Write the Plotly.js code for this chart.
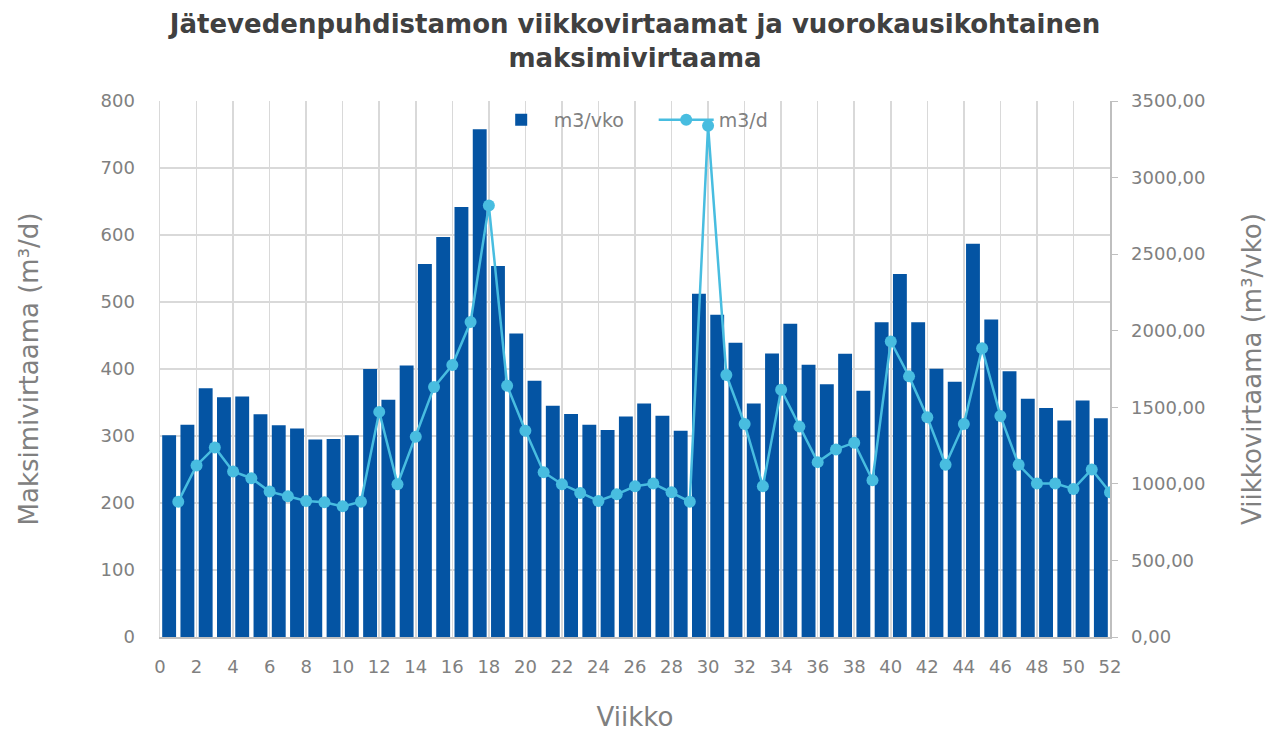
<!DOCTYPE html>
<html>
<head>
<meta charset="utf-8">
<script src="https://cdn.plot.ly/plotly-3.0.1.min.js"></script>
<style>html,body{margin:0;padding:0;background:#fff;}#chart{width:1285px;height:734px;}</style>
</head>
<body>
<div id="chart"></div>
<script>
// Weeks 1..52
const weeks = Array.from({length: 52}, (_, i) => i + 1);

// Weekly flow, m3/vko (right axis)
const weeklyFlow = [
  1317, 1386, 1624, 1566, 1571, 1454, 1382, 1361, 1289, 1293,
  1317, 1750, 1550, 1773, 2435, 2612, 2808, 3316, 2423, 1981,
  1673, 1510, 1456, 1386, 1351, 1440, 1524, 1445, 1347, 2241,
  2104, 1922, 1524, 1852, 2046, 1778, 1650, 1850, 1608, 2055,
  2370, 2055, 1752, 1666, 2568, 2074, 1736, 1556, 1496, 1414,
  1545, 1428
];

// Daily maximum flow, m3/d (left axis)
const dailyMax = [
  202, 256, 283, 247, 237, 217, 210, 203, 201, 195,
  202, 336, 228, 299, 373, 406, 470, 644, 375, 308,
  246, 228, 215, 203, 213, 225, 229, 216, 202, 763,
  391, 318, 225, 369, 314, 261, 280, 290, 234, 441,
  389, 328, 257, 318, 431, 330, 257, 229, 229, 221,
  250, 216
];

const seriesNames = ['m3/vko', 'm3/d'];
const chartTitle = 'Jätevedenpuhdistamon viikkovirtaamat ja vuorokausikohtainen<br>maksimivirtaama';
const xTitle = 'Viikko';
const yLeftTitle = 'Maksimivirtaama (m³/d)';
const yRightTitle = 'Viikkovirtaama (m³/vko)';

const FONT = '"DejaVu Sans", "Open Sans", sans-serif';
const GREY = '#808080';
const GRID = '#d9d9d9';

const traces = [
  {
    type: 'bar',
    name: seriesNames[0],
    x: weeks,
    y: weeklyFlow,
    xaxis: 'x',
    yaxis: 'y',
    width: 0.76,
    marker: {color: '#0454a3'}
  },
  {
    type: 'scatter',
    mode: 'lines+markers',
    name: seriesNames[1],
    x: weeks,
    y: dailyMax,
    xaxis: 'x2',
    yaxis: 'y2',
    line: {color: '#48bde0', width: 2.5},
    marker: {color: '#48bde0', size: 12}
  }
];

const layout = {
  width: 1285,
  height: 734,
  paper_bgcolor: '#ffffff',
  plot_bgcolor: '#ffffff',
  separators: ', ',
  font: {family: FONT, color: GREY, size: 18},
  margin: {l: 160, r: 175, t: 101, b: 97},
  title: {
    text: chartTitle,
    font: {family: FONT, size: 26, color: '#404040', weight: 'bold'},
    x: 0.5, xref: 'paper', xanchor: 'center',
    y: 0.955, yref: 'container', yanchor: 'top'
  },
  showlegend: true,
  legend: {
    orientation: 'h',
    x: 0.346, xanchor: 'left',
    y: 1.0, yanchor: 'top',
    bgcolor: 'rgba(0,0,0,0)',
    font: {family: FONT, size: 19, color: GREY},
    itemwidth: 55,
    entrywidth: 95,
    traceorder: 'normal'
  },
  xaxis: {
    range: [0.5, 52.5],
    visible: false,
    fixedrange: true
  },
  yaxis: {
    side: 'right',
    range: [0, 3500],
    dtick: 500,
    tick0: 0,
    tickformat: '.2f',
    showgrid: false,
    zeroline: false,
    showline: true,
    linecolor: '#bfbfbf',
    linewidth: 1.5,
    ticks: 'outside',
    ticklen: 6,
    tickcolor: '#bfbfbf',
    ticklabelstandoff: 10,
    tickfont: {family: FONT, size: 18, color: GREY},
    title: {text: yRightTitle, font: {family: FONT, size: 26, color: GREY}, standoff: 38},
    automargin: false
  },
  xaxis2: {
    overlaying: 'x',
    side: 'bottom',
    range: [0, 52],
    dtick: 2,
    tick0: 0,
    showgrid: true,
    gridcolor: GRID,
    gridwidth: 1.5,
    zeroline: false,
    showline: true,
    linecolor: '#bfbfbf',
    linewidth: 2,
    ticks: '',
    ticklabelstandoff: 12,
    tickfont: {family: FONT, size: 18, color: GREY},
    title: {text: xTitle, font: {family: FONT, size: 26, color: GREY}, standoff: 32},
    automargin: false
  },
  yaxis2: {
    overlaying: 'y',
    side: 'left',
    range: [0, 800],
    dtick: 100,
    tick0: 0,
    showgrid: true,
    gridcolor: GRID,
    gridwidth: 1.5,
    zeroline: false,
    showline: true,
    linecolor: GRID,
    linewidth: 1.5,
    ticks: '',
    ticklabelstandoff: 20,
    tickfont: {family: FONT, size: 18, color: GREY},
    title: {text: yLeftTitle, font: {family: FONT, size: 26, color: GREY}, standoff: 54},
    automargin: false
  }
};

Plotly.newPlot('chart', traces, layout, {displayModeBar: false, staticPlot: true});
</script>
</body>
</html>
